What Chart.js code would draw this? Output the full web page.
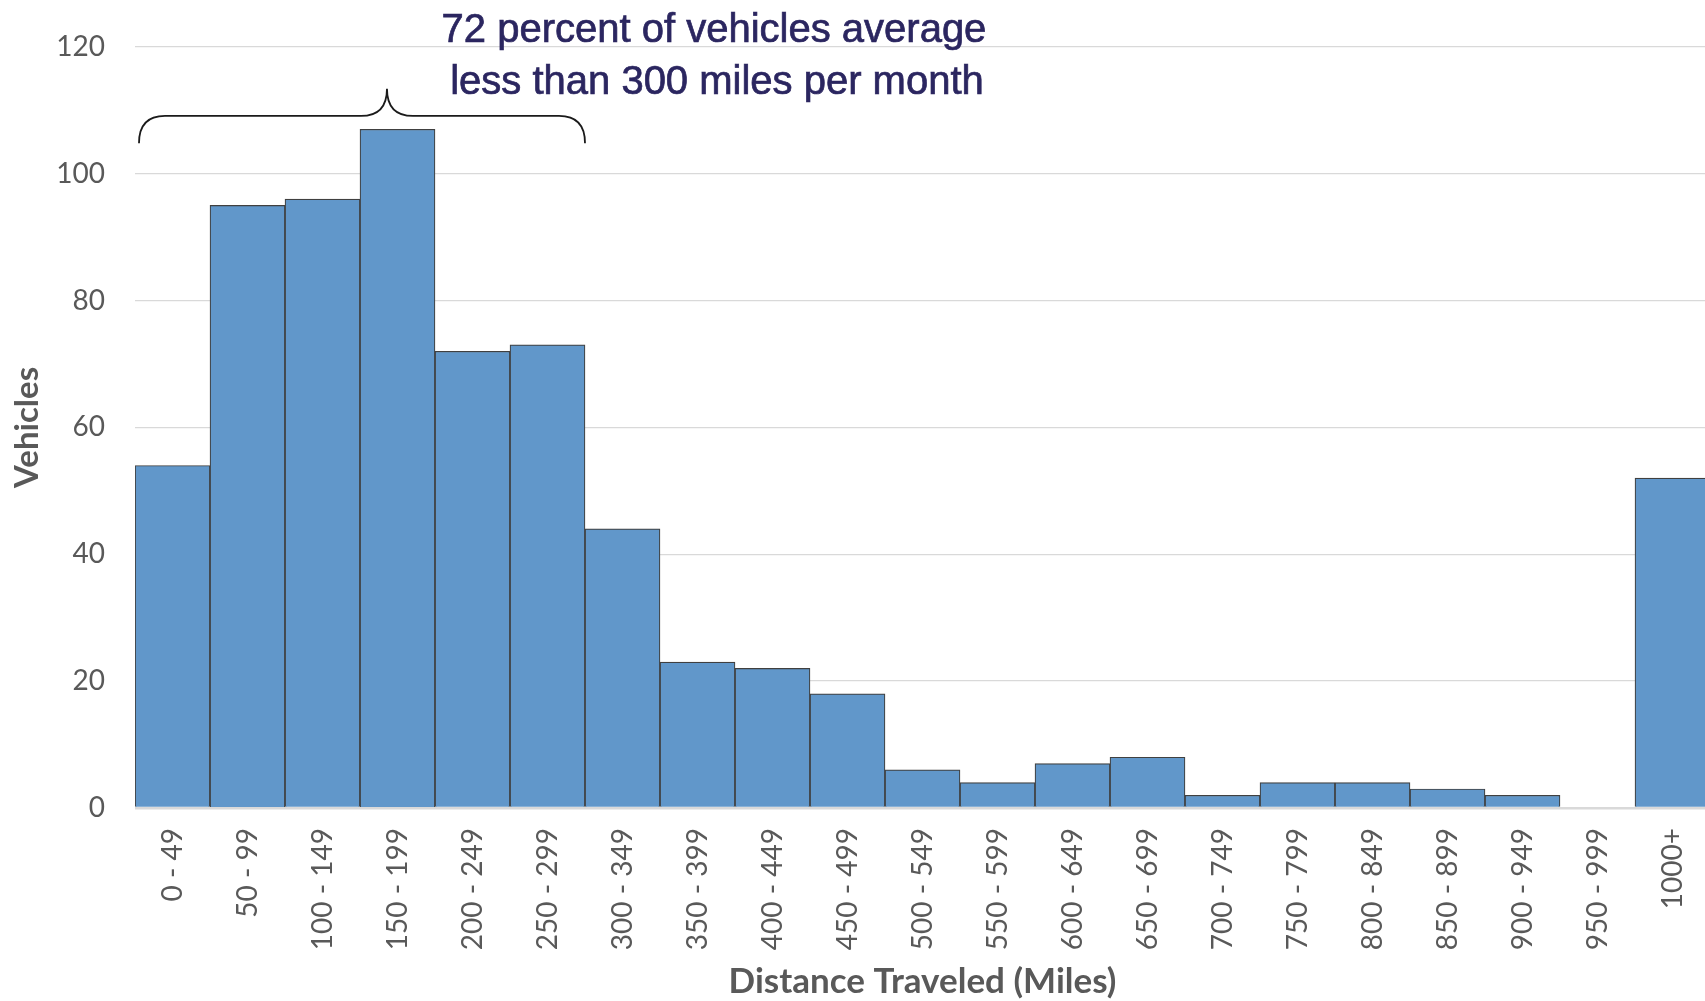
<!DOCTYPE html>
<html lang="en">
  <head>
    <meta charset="UTF-8" />
    <title>Distance Traveled Histogram</title>
    <script src="https://cdn.jsdelivr.net/npm/chart.js"></script>
    <style>
      html,
      body {
        margin: 0;
        padding: 0;
        background: #ffffff;
        overflow: hidden;
      }

      #wrap {
        width: 1705px;
        height: 1001px;
        overflow: hidden;
      }

      #chart-box {
        width: 1710px;
        height: 1001px;
      }
    </style>
  </head>
  <body>
    <div id="wrap">
      <div id="chart-box">
        <canvas id="histogram"></canvas>
      </div>
    </div>

    <script>
      // Distance bins (miles per month)
      const binLabels = [
        '0 - 49', '50 - 99', '100 - 149', '150 - 199', '200 - 249',
        '250 - 299', '300 - 349', '350 - 399', '400 - 449', '450 - 499',
        '500 - 549', '550 - 599', '600 - 649', '650 - 699', '700 - 749',
        '750 - 799', '800 - 849', '850 - 899', '900 - 949', '950 - 999',
        '1000+',
      ];

      // Number of vehicles in each bin
      const vehicleCounts = [
        54, 95, 96, 107, 72, 73, 44, 23, 22, 18, 6, 4, 7, 8, 2, 4, 4, 3, 2, 0,
        52,
      ];

      const yTicks = [0, 20, 40, 60, 80, 100, 120];

      const noteLines = [
        '72 percent of vehicles average',
        'less than 300 miles per month',
      ];

      // brace covers the bins below 300 miles
      const braceFirstBin = 0;
      const braceLastBin = 5;

      const tickColor = '#595959';
      const fontFamily = "Lato, 'Open Sans', 'Liberation Sans', sans-serif";

      const braceNote = {
        id: 'braceNote',
        afterDatasetsDraw(chart) {
          const { ctx } = chart;
          const x = chart.scales.x;
          const y = chart.scales.y;
          const half = (x.getPixelForValue(1) - x.getPixelForValue(0)) / 2;

          const xl = x.getPixelForValue(braceFirstBin) - half + 4;
          const xr = x.getPixelForValue(braceLastBin) + half;
          const xp = xl + (xr - xl) * 0.556;
          const yb = y.getPixelForValue(104.8);
          const yh = y.getPixelForValue(109.1);
          const yp = y.getPixelForValue(113.4);
          const r = 26;

          ctx.save();
          ctx.strokeStyle = '#1a1a1a';
          ctx.lineWidth = 1.8;
          ctx.beginPath();
          ctx.moveTo(xl, yb);
          ctx.quadraticCurveTo(xl, yh, xl + r, yh);
          ctx.lineTo(xp - r, yh);
          ctx.quadraticCurveTo(xp, yh, xp, yp);
          ctx.quadraticCurveTo(xp, yh, xp + r, yh);
          ctx.lineTo(xr - r, yh);
          ctx.quadraticCurveTo(xr, yh, xr, yb);
          ctx.stroke();

          // note text above the brace
          ctx.fillStyle = '#2b2660';
          ctx.strokeStyle = '#2b2660';
          ctx.lineWidth = 0.7;
          ctx.font = "40px 'Liberation Sans', Arial, sans-serif";
          ctx.textAlign = 'center';
          ctx.textBaseline = 'alphabetic';
          const cx = xp + 327;
          ctx.fillText(noteLines[0], cx, yp - 47);
          ctx.strokeText(noteLines[0], cx, yp - 47);
          ctx.fillText(noteLines[1], cx + 3, yp + 5);
          ctx.strokeText(noteLines[1], cx + 3, yp + 5);
          ctx.restore();
        },
      };

      const ctx = document.getElementById('histogram').getContext('2d');

      new Chart(ctx, {
        type: 'bar',
        data: {
          labels: binLabels,
          datasets: [
            {
              label: 'Vehicles',
              data: vehicleCounts,
              backgroundColor: '#6197ca',
              borderColor: '#404040',
              borderWidth: 1.2,
              categoryPercentage: 1.0,
              barPercentage: 1.0,
            },
          ],
        },
        options: {
          responsive: true,
          maintainAspectRatio: false,
          animation: false,
          layout: {
            padding: { top: 45, right: 0, bottom: 0, left: 0 },
          },
          plugins: {
            legend: { display: false },
            tooltip: { enabled: false },
          },
          scales: {
            x: {
              grid: { display: false, drawTicks: false },
              border: { display: false },
              ticks: {
                color: tickColor,
                font: { family: fontFamily, size: 28 },
                minRotation: 90,
                maxRotation: 90,
                padding: 20,
                autoSkip: false,
              },
              title: {
                display: true,
                text: 'Distance Traveled (Miles)',
                color: tickColor,
                font: {
                  family: fontFamily,
                  size: 35,
                  weight: 'bold',
                  lineHeight: 1.0,
                },
                padding: { top: 0, bottom: 2 },
              },
              afterFit(scale) {
                scale.height = 193;
                scale.paddingLeft = 0;
                scale.paddingRight = 0;
              },
            },
            y: {
              min: 0,
              max: 120,
              afterBuildTicks(scale) {
                scale.ticks = yTicks.map((v) => ({ value: v }));
              },
              grid: {
                color: '#d9d9d9',
                lineWidth: (c) => (c.tick && c.tick.value === 0 ? 2.5 : 1.3),
                drawTicks: false,
              },
              border: { display: false },
              ticks: {
                color: tickColor,
                font: { family: fontFamily, size: 28 },
                padding: 30,
              },
              title: {
                display: true,
                text: 'Vehicles',
                color: tickColor,
                font: { family: fontFamily, size: 33, weight: 'bold' },
                padding: { top: 8, bottom: 0 },
              },
              afterFit(scale) {
                scale.width = 135;
              },
            },
          },
        },
        plugins: [braceNote],
      });
    </script>
  </body>
</html>
